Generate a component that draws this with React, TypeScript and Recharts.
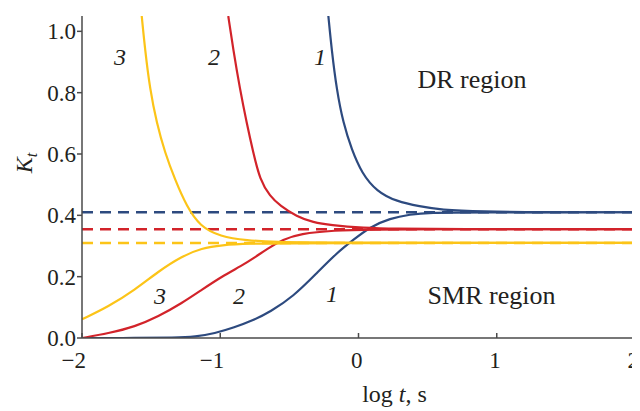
import { LineChart, Line, XAxis, YAxis, ReferenceLine, ReferenceDot } from "recharts";

const SERIF = "Liberation Serif, serif";
const INK = "#231f20";
const AXIS = "#4a4a4a";

const xTicks = [-2, -1, 0, 1, 2];
const yTicks = [0, 0.2, 0.4, 0.6, 0.8, 1.0];

// blue = 1, red = 2, yellow = 3
const colors = ["#2d4a7f", "#d2232a", "#fcc418"];
// limiting Kt for each case (dashed lines)
const limitK = [0.41, 0.355, 0.31];

// [log t, Kt]
const dr1 = [[-0.218, 1.05], [-0.194, 0.94], [-0.158, 0.81], [-0.11, 0.7], [-0.049, 0.614], [0.023, 0.538], [0.131, 0.478], [0.276, 0.445], [0.445, 0.429], [0.59, 0.418], [0.9, 0.412], [1.3, 0.41], [2, 0.41]];
const smr1 = [[-2, 0], [-1.6, 0], [-1.33, 0.001], [-1.18, 0.004], [-1.04, 0.015], [-0.9, 0.034], [-0.76, 0.058], [-0.64, 0.085], [-0.472, 0.135], [-0.303, 0.211], [-0.158, 0.277], [-0.038, 0.32], [0.083, 0.362], [0.228, 0.39], [0.372, 0.403], [0.517, 0.409], [0.8, 0.41], [2, 0.41]];

const dr2 = [[-0.942, 1.05], [-0.906, 0.941], [-0.857, 0.81], [-0.809, 0.702], [-0.761, 0.604], [-0.713, 0.516], [-0.64, 0.462], [-0.568, 0.432], [-0.447, 0.396], [-0.327, 0.377], [-0.206, 0.368], [0.035, 0.359], [0.276, 0.356], [0.6, 0.355], [2, 0.355]];
const smr2 = [[-2, 0], [-1.81, 0.015], [-1.617, 0.037], [-1.448, 0.07], [-1.279, 0.113], [-1.134, 0.157], [-0.99, 0.2], [-0.845, 0.236], [-0.749, 0.263], [-0.664, 0.29], [-0.544, 0.322], [-0.423, 0.34], [-0.182, 0.351], [0.107, 0.354], [0.5, 0.355], [2, 0.355]];

const dr3 = [[-1.568, 1.05], [-1.544, 0.941], [-1.508, 0.81], [-1.46, 0.702], [-1.4, 0.604], [-1.327, 0.516], [-1.243, 0.429], [-1.146, 0.364], [-1.002, 0.331], [-0.809, 0.318], [-0.592, 0.313], [-0.3, 0.311], [2, 0.31]];
const smr3 = [[-2, 0.061], [-1.81, 0.102], [-1.617, 0.157], [-1.448, 0.217], [-1.279, 0.266], [-1.134, 0.293], [-0.99, 0.303], [-0.797, 0.308], [-0.5, 0.31], [2, 0.31]];

const curves = [
  { id: "dr1", pts: dr1, color: colors[0] },
  { id: "smr1", pts: smr1, color: colors[0] },
  { id: "dr2", pts: dr2, color: colors[1] },
  { id: "smr2", pts: smr2, color: colors[1] },
  { id: "dr3", pts: dr3, color: colors[2] },
  { id: "smr3", pts: smr3, color: colors[2] },
];

// curve numbers and region names, placed at data coords
const curveTags = [
  { text: "3", x: -1.725, k: 0.918 },
  { text: "2", x: -1.045, k: 0.918 },
  { text: "1", x: -0.278, k: 0.918 },
  { text: "3", x: -1.436, k: 0.137 },
  { text: "2", x: -0.864, k: 0.137 },
  { text: "1", x: -0.192, k: 0.144 },
];
const regionTags = [
  { text: "DR region", x: 0.821, k: 0.846 },
  { text: "SMR region", x: 0.962, k: 0.141 },
];

const toRows = (pts: number[][]) => pts.map(([x, k]) => ({ x, k }));
const fmtX = (v: number) => (v < 0 ? `\u2212${Math.abs(v)}` : `${v}`);

function tag(text: string, italic: boolean, size: number) {
  return ({ viewBox }: any) => (
    <text
      x={viewBox.x + viewBox.width / 2}
      y={viewBox.y + viewBox.height / 2}
      dy="0.35em"
      textAnchor="middle"
      fontFamily={SERIF}
      fontSize={size}
      fontStyle={italic ? "italic" : "normal"}
      fill={INK}
    >
      {text}
    </text>
  );
}

const XTick = ({ x, y, payload }: any) => (
  <text x={x + 4} y={y} dy="0.71em" textAnchor="end" fontFamily={SERIF} fontSize={23} fill={INK}>
    {fmtX(payload.value)}
  </text>
);

const YTick = ({ x, y, payload }: any) => (
  <text x={x} y={y} dy="0.35em" textAnchor="end" fontFamily={SERIF} fontSize={23} fill={INK}>
    {payload.value.toFixed(1)}
  </text>
);

const XTitle = ({ viewBox }: any) => (
  <text x={viewBox.x + viewBox.width / 2 + 36} y={viewBox.y + 64} textAnchor="middle" fontFamily={SERIF} fontSize={24} fill={INK}>
    log <tspan fontStyle="italic">t</tspan>, s
  </text>
);

// chart sits inside the body's 8px margin, so these are chart coords
const YTitle = () => (
  <text x={24} y={155} transform="rotate(-90, 24, 155)" textAnchor="middle" fontFamily={SERIF} fontSize={24} fontStyle="italic" fill={INK}>
    K<tspan fontSize={16} dy={5}>t</tspan>
  </text>
);

export default function App() {
  return (
    <div>
      <LineChart width={632} height={403} margin={{ top: 8, right: 5, bottom: 23, left: 0 }}>
        <XAxis
          type="number"
          dataKey="x"
          domain={[-2, 2]}
          ticks={xTicks}
          allowDataOverflow
          height={50}
          stroke={AXIS}
          strokeWidth={1.5}
          tickSize={-5}
          tickMargin={19}
          tick={<XTick />}
          label={XTitle}
        />
        <YAxis
          type="number"
          domain={[0, 1.05]}
          ticks={yTicks}
          allowDataOverflow
          width={74}
          stroke={AXIS}
          strokeWidth={1.5}
          tickSize={5}
          tickMargin={1}
          tick={<YTick />}
          label={YTitle}
        />
        {limitK.map((k, i) => (
          <ReferenceLine key={`lim${i}`} y={k} stroke={colors[i]} strokeWidth={2.5} strokeDasharray="11 7" />
        ))}
        {curves.map(c => (
          <Line
            key={c.id}
            data={toRows(c.pts)}
            dataKey="k"
            type="basis"
            stroke={c.color}
            strokeWidth={2.2}
            dot={false}
            activeDot={false}
            isAnimationActive={false}
          />
        ))}
        {curveTags.map((t, i) => (
          <ReferenceDot key={`c${i}`} x={t.x} y={t.k} r={0} fill="none" stroke="none" label={tag(t.text, true, 24)} />
        ))}
        {regionTags.map((t, i) => (
          <ReferenceDot key={`r${i}`} x={t.x} y={t.k} r={0} fill="none" stroke="none" label={tag(t.text, false, 26)} />
        ))}
      </LineChart>
    </div>
  );
}
